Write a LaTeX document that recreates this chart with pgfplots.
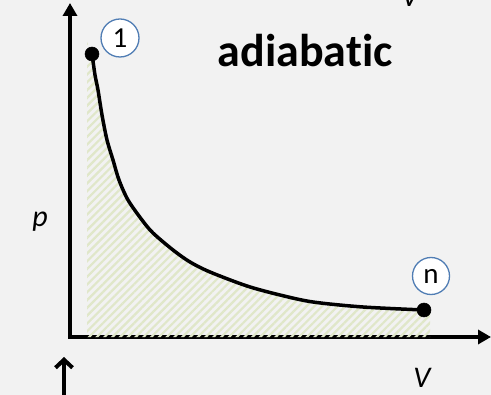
\documentclass[border=0pt]{standalone}
\usepackage{pgfplots}
\pgfplotsset{compat=1.18}
\usepackage{fontspec}
\setmainfont{Carlito}[Ligatures={NoCommon}]
\usetikzlibrary{arrows.meta,patterns.meta}
\definecolor{bg}{HTML}{F2F2F2}
\definecolor{hatch}{HTML}{E0E7C9}
\definecolor{ring}{RGB}{80,125,180}
\begin{document}
\begin{tikzpicture}
\clip (0,0) rectangle (491bp,395bp);
\fill[bg] (0,0) rectangle (491bp,395bp);
% partial V at top and arrow at bottom-left (cropped neighbours)
\node[anchor=base,inner sep=0pt,font=\fontsize{30bp}{36bp}\selectfont\itshape] at (410bp,388bp) {V};
\draw[line width=4bp,-{Straight Barb[length=8bp,width=17bp]}] (64bp,-5bp) -- (64bp,38bp);
\begin{axis}[
  at={(70bp,58bp)}, anchor=origin,
  scale only axis, width=421bp, height=334bp,
  xmin=0, xmax=421, ymin=0, ymax=334,
  axis lines=left,
  axis line style={line width=4.3bp,line cap=rect,-{Triangle[length=13bp,width=14bp]}},
  xtick=\empty, ytick=\empty,
  clip=false,
]
\addplot[draw=none, pattern={Lines[angle=45,distance=5.5bp,line width=2.2bp]}, pattern color=hatch]
  coordinates {(17,0) (17,295) (22,283) (25,262) (28,247) (32,222) (37,197) (43,177) (49,157)
  (58,137) (72,117) (83,104) (103,87) (120,75) (140,65) (177,51) (210,42) (243,35)
  (293,30) (354,27) (360,27) (360,0)} -- cycle;
\addplot[line width=3.5bp, black, smooth, mark=*, mark indices={1,18}, mark size=7bp,
  mark options={line width=0.5bp, fill=black}]
  coordinates {(22,283) (25,262) (28,247) (32,222) (37,197) (43,177) (49,157)
  (58,137) (72,117) (83,104) (103,87) (120,75) (140,65) (177,51) (210,42) (243,35)
  (293,30) (354,27)};
\node[circle, draw=ring, line width=1.3bp, fill=white, minimum size=38bp, inner sep=0pt,
  font=\fontsize{29bp}{32bp}\selectfont] at (axis cs:50,299) {1};
\node[circle, draw=ring, line width=1.3bp, fill=white, minimum size=37bp, inner sep=0pt,
  font=\fontsize{29bp}{32bp}\selectfont] at (axis cs:361,61) {n};
\node[anchor=base, inner sep=0pt, font=\fontsize{46bp}{50bp}\selectfont\bfseries] at (axis cs:235,270) {adiabatic};
\node[anchor=base, inner sep=0pt, font=\fontsize{30bp}{36bp}\selectfont\itshape] at (axis cs:-30,110) {p};
\node[anchor=base, inner sep=0pt, font=\fontsize{30bp}{36bp}\selectfont\itshape] at (axis cs:352,-50) {V};
\end{axis}
\end{tikzpicture}
\end{document}
